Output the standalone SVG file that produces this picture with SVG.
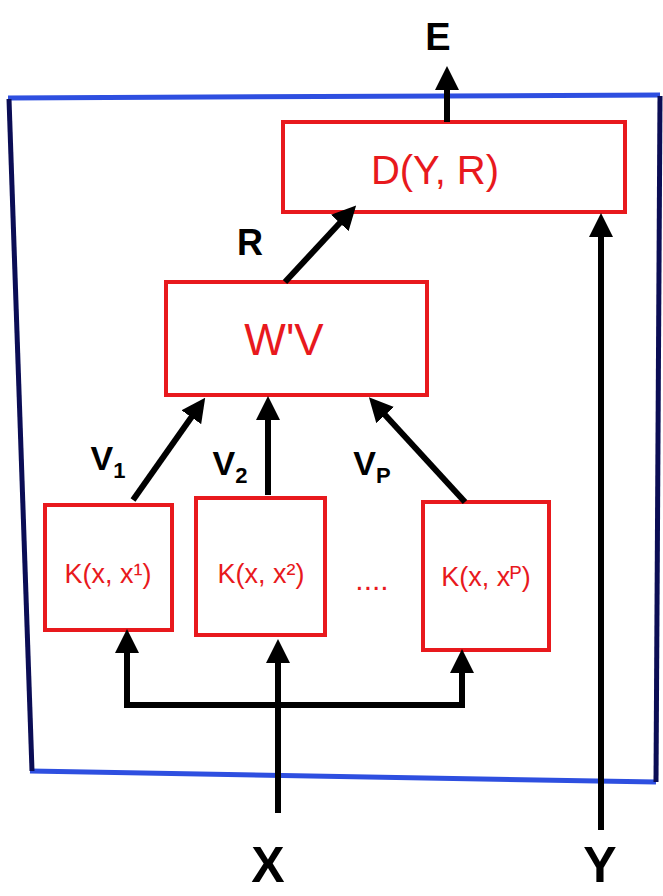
<svg xmlns="http://www.w3.org/2000/svg" width="663" height="896" viewBox="0 0 663 896">
<style>
.box{fill:none;stroke:#e8191d;stroke-width:4}
.frameH{fill:none;stroke:#2e4fe0;stroke-width:5}
.frameV{fill:none;stroke:#0b0d55;stroke-width:5}
.conn{fill:none;stroke:#000;stroke-width:6}
.red{fill:#e8191d;font-family:"Liberation Sans",Arial,sans-serif}
.blk{fill:#000;font-family:"Liberation Sans",Arial,sans-serif;font-weight:bold}
</style>
<defs>
<marker id="ah" markerWidth="4" markerHeight="4" refX="2.5" refY="2" orient="auto" markerUnits="strokeWidth">
<path d="M0,0 L4,2 L0,4 z" fill="#000"/>
</marker>
</defs>
<rect width="663" height="896" fill="#fff"/>
<g id="frame">
<line class="frameH" x1="8" y1="98" x2="660" y2="95"/>
<line class="frameH" x1="30" y1="771" x2="656" y2="782"/>
<line class="frameV" x1="9" y1="99" x2="32" y2="771"/>
<line class="frameV" x1="660" y1="96" x2="656" y2="782"/>
</g>
<g id="nodeD"><rect class="box" x="283" y="122" width="342" height="90"/><text class="red" x="435" y="184" font-size="40" text-anchor="middle">D(Y, R)</text></g>
<g id="nodeW"><rect class="box" x="166" y="282" width="261" height="113"/><text class="red" x="284" y="355" font-size="44" text-anchor="middle">W'V</text></g>
<g id="nodeK1"><rect class="box" x="45" y="505" width="127" height="125"/><text class="red" x="108" y="583" font-size="27" text-anchor="middle">K(x, x¹)</text></g>
<g id="nodeK2"><rect class="box" x="196" y="498" width="129" height="137"/><text class="red" x="261" y="583" font-size="27" text-anchor="middle">K(x, x²)</text></g>
<g id="nodeK3"><rect class="box" x="423" y="502" width="126" height="148"/><text class="red" x="486" y="586" font-size="27" text-anchor="middle">K(x, xᴾ)</text></g>
<g id="dots"><text class="red" x="372" y="590" font-size="30" text-anchor="middle">....</text></g>
<g id="connectors">
<line class="conn" x1="447" y1="122" x2="447" y2="75" marker-end="url(#ah)"/>
<line class="conn" x1="285" y1="282" x2="350" y2="212" marker-end="url(#ah)"/>
<line class="conn" x1="601" y1="830" x2="601" y2="222" marker-end="url(#ah)"/>
<line class="conn" x1="133" y1="500" x2="200" y2="405" marker-end="url(#ah)"/>
<line class="conn" x1="268" y1="495" x2="268" y2="405" marker-end="url(#ah)"/>
<line class="conn" x1="465" y1="502" x2="375" y2="404" marker-end="url(#ah)"/>
<line class="conn" x1="278" y1="813" x2="278" y2="648" marker-end="url(#ah)"/>
<polyline class="conn" points="127,640 127,705 462,705 462,660"/>
<line class="conn" x1="127" y1="700" x2="127" y2="638" marker-end="url(#ah)"/>
<line class="conn" x1="462" y1="700" x2="462" y2="658" marker-end="url(#ah)"/>
</g>
<g id="labels">
<text class="blk" x="438" y="50" font-size="38" text-anchor="middle">E</text>
<text class="blk" x="250" y="255" font-size="36" text-anchor="middle">R</text>
<text class="blk" x="108" y="470" font-size="34" text-anchor="middle">V<tspan font-size="22" dy="8">1</tspan></text>
<text class="blk" x="230" y="475" font-size="34" text-anchor="middle">V<tspan font-size="22" dy="8">2</tspan></text>
<text class="blk" x="372" y="475" font-size="34" text-anchor="middle">V<tspan font-size="22" dy="8">P</tspan></text>
<text class="blk" x="268" y="882" font-size="50" text-anchor="middle">X</text>
<text class="blk" x="600" y="882" font-size="50" text-anchor="middle">Y</text>
</g>
</svg>
